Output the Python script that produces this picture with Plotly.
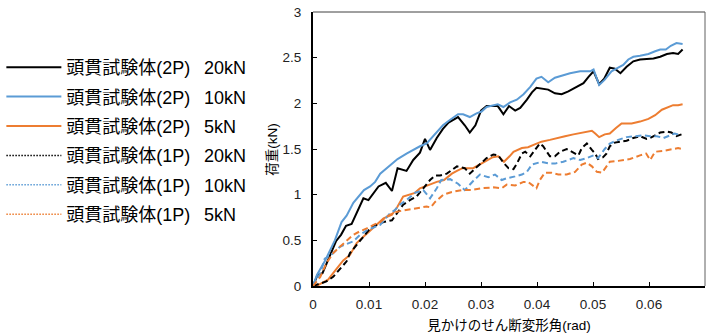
import plotly.graph_objects as go

# ---------------- data ----------------
names = [
    "頭貫試験体(2P)\u00a0\u00a0\u200920kN",
    "頭貫試験体(2P)\u00a0\u00a0\u200910kN",
    "頭貫試験体(2P)\u00a0\u00a0\u20095kN",
    "頭貫試験体(1P)\u00a0\u00a0\u200920kN",
    "頭貫試験体(1P)\u00a0\u00a0\u200910kN",
    "頭貫試験体(1P)\u00a0\u00a0\u20095kN",
]

x_2p_20 = [0, 0.0008, 0.0017, 0.0024, 0.0032, 0.0041, 0.0050, 0.0059, 0.0069, 0.0090,
           0.0099, 0.0117, 0.0130, 0.0141, 0.0151, 0.0167, 0.0179, 0.0191, 0.0200, 0.0209,
           0.0221, 0.0232, 0.0242, 0.0259, 0.0271, 0.0280, 0.0290, 0.0300, 0.0310, 0.0330,
           0.0340, 0.0350, 0.0361, 0.0370, 0.0382, 0.0391, 0.0399, 0.0420, 0.0432, 0.0444,
           0.0456, 0.0471, 0.0483, 0.0492, 0.0501, 0.0511, 0.0520, 0.0530, 0.0539, 0.0549,
           0.0560, 0.0572, 0.0584, 0.0608, 0.0620, 0.0632, 0.0643, 0.0652, 0.0660]
y_2p_20 = [0, 0.12, 0.14, 0.24, 0.36, 0.49, 0.56, 0.66, 0.68, 0.96,
           0.94, 1.09, 1.13, 1.04, 1.29, 1.26, 1.38, 1.46, 1.61, 1.49,
           1.62, 1.72, 1.79, 1.85, 1.76, 1.68, 1.76, 1.92, 1.97, 1.97,
           1.88, 1.97, 1.92, 1.95, 2.04, 2.12, 2.17, 2.15, 2.11, 2.10,
           2.13, 2.18, 2.22, 2.29, 2.35, 2.21, 2.27, 2.39, 2.38, 2.33,
           2.40, 2.46, 2.48, 2.49, 2.51, 2.54, 2.55, 2.54, 2.59]

x_2p_10 = [0, 0.0007, 0.0021, 0.0030, 0.0039, 0.0051, 0.0060, 0.0072, 0.0081, 0.0091,
           0.0102, 0.0111, 0.0120, 0.0132, 0.0141, 0.0151, 0.0167, 0.0179, 0.0191, 0.0203,
           0.0215, 0.0232, 0.0245, 0.0259, 0.0268, 0.0280, 0.0292, 0.0301, 0.0310, 0.0330,
           0.0340, 0.0352, 0.0364, 0.0376, 0.0388, 0.0399, 0.0408, 0.0420, 0.0432, 0.0444,
           0.0459, 0.0477, 0.0495, 0.0501, 0.0511, 0.0521, 0.0533, 0.0545, 0.0554, 0.0563,
           0.0572, 0.0584, 0.0599, 0.0611, 0.0620, 0.0630, 0.0639, 0.0649, 0.0660]
y_2p_10 = [0, 0.12, 0.27, 0.39, 0.50, 0.70, 0.77, 0.91, 0.98, 1.05,
           1.09, 1.14, 1.23, 1.29, 1.34, 1.39, 1.45, 1.49, 1.53, 1.56,
           1.64, 1.76, 1.82, 1.88, 1.88, 1.85, 1.89, 1.91, 1.96, 1.99,
           1.96, 2.01, 2.04, 2.10, 2.18, 2.27, 2.29, 2.23, 2.28, 2.30,
           2.33, 2.35, 2.35, 2.37, 2.20, 2.26, 2.35, 2.39, 2.42, 2.48,
           2.51, 2.52, 2.54, 2.57, 2.59, 2.59, 2.63, 2.66, 2.65]

x_2p_5 = [0, 0.0009, 0.0018, 0.0027, 0.0036, 0.0045, 0.0054, 0.0066, 0.0078, 0.0090,
          0.0099, 0.0114, 0.0126, 0.0141, 0.0151, 0.0161, 0.0173, 0.0182, 0.0191, 0.0200,
          0.0212, 0.0221, 0.0234, 0.0248, 0.0257, 0.0267, 0.0286, 0.0298, 0.0310, 0.0321,
          0.0331, 0.0341, 0.0351, 0.0358, 0.0373, 0.0384, 0.0396, 0.0408, 0.0423, 0.0435,
          0.0450, 0.0465, 0.0480, 0.0498, 0.0504, 0.0511, 0.0521, 0.0530, 0.0541, 0.0551,
          0.0569, 0.0584, 0.0599, 0.0611, 0.0623, 0.0634, 0.0643, 0.0652, 0.0660]
y_2p_5 = [0, 0.01, 0.04, 0.07, 0.14, 0.21, 0.28, 0.34, 0.47, 0.54,
          0.59, 0.67, 0.74, 0.78, 0.87, 0.98, 1.00, 1.02, 1.07, 1.09,
          1.12, 1.14, 1.16, 1.23, 1.26, 1.29, 1.29, 1.33, 1.37, 1.41,
          1.42, 1.36, 1.42, 1.47, 1.51, 1.52, 1.55, 1.58, 1.60, 1.62,
          1.64, 1.66, 1.68, 1.70, 1.67, 1.63, 1.66, 1.67, 1.73, 1.78,
          1.78, 1.80, 1.83, 1.87, 1.93, 1.96, 1.98, 1.98, 1.99]

x_1p_20 = [0, 0.0013, 0.0024, 0.0036, 0.0048, 0.0060, 0.0066, 0.0075, 0.0084, 0.0093,
           0.0102, 0.0114, 0.0126, 0.0141, 0.0151, 0.0161, 0.0173, 0.0185, 0.0197, 0.0209,
           0.0218, 0.0227, 0.0239, 0.0257, 0.0271, 0.0280, 0.0292, 0.0301, 0.0310, 0.0322,
           0.0331, 0.0340, 0.0349, 0.0358, 0.0364, 0.0373, 0.0379, 0.0388, 0.0405, 0.0411,
           0.0423, 0.0432, 0.0441, 0.0453, 0.0465, 0.0474, 0.0480, 0.0489, 0.0498, 0.0504,
           0.0509, 0.0518, 0.0524, 0.0530, 0.0539, 0.0551, 0.0560, 0.0572, 0.0584, 0.0596,
           0.0602, 0.0611, 0.0620, 0.0632, 0.0640, 0.0649, 0.0658]
y_1p_20 = [0, 0.03, 0.05, 0.10, 0.18, 0.27, 0.36, 0.43, 0.50, 0.56,
           0.63, 0.67, 0.70, 0.72, 0.81, 0.89, 0.94, 0.98, 1.07, 1.16,
           1.21, 1.21, 1.23, 1.31, 1.29, 1.23, 1.30, 1.35, 1.40, 1.44,
           1.43, 1.35, 1.29, 1.28, 1.34, 1.45, 1.47, 1.42, 1.56, 1.53,
           1.42, 1.42, 1.47, 1.50, 1.46, 1.43, 1.51, 1.56, 1.49, 1.45,
           1.39, 1.41, 1.45, 1.53, 1.57, 1.58, 1.59, 1.62, 1.64, 1.61,
           1.62, 1.65, 1.68, 1.69, 1.68, 1.64, 1.66]

x_1p_10 = [0, 0.0013, 0.0021, 0.0027, 0.0036, 0.0048, 0.0060, 0.0072, 0.0084, 0.0096,
           0.0108, 0.0120, 0.0138, 0.0146, 0.0155, 0.0167, 0.0182, 0.0197, 0.0209, 0.0221,
           0.0229, 0.0245, 0.0259, 0.0271, 0.0286, 0.0298, 0.0313, 0.0325, 0.0337, 0.0346,
           0.0361, 0.0373, 0.0382, 0.0391, 0.0408, 0.0423, 0.0432, 0.0447, 0.0465, 0.0477,
           0.0489, 0.0501, 0.0509, 0.0521, 0.0530, 0.0545, 0.0560, 0.0575, 0.0590, 0.0602,
           0.0614, 0.0626, 0.0634, 0.0646, 0.0658]
y_1p_10 = [0, 0.14, 0.30, 0.32, 0.36, 0.43, 0.46, 0.49, 0.56, 0.61,
           0.64, 0.67, 0.80, 0.83, 0.89, 0.94, 1.02, 1.05, 0.96, 1.07,
           1.16, 1.17, 1.12, 1.05, 1.15, 1.22, 1.19, 1.22, 1.16, 1.18,
           1.20, 1.22, 1.25, 1.33, 1.36, 1.34, 1.34, 1.36, 1.40, 1.38,
           1.40, 1.43, 1.40, 1.50, 1.56, 1.60, 1.63, 1.64, 1.65, 1.64,
           1.64, 1.62, 1.64, 1.67, 1.65]

x_1p_5 = [0, 0.0013, 0.0024, 0.0036, 0.0048, 0.0060, 0.0072, 0.0084, 0.0096, 0.0108,
          0.0120, 0.0132, 0.0143, 0.0155, 0.0173, 0.0191, 0.0203, 0.0210, 0.0218, 0.0233,
          0.0248, 0.0266, 0.0283, 0.0301, 0.0322, 0.0337, 0.0346, 0.0361, 0.0376, 0.0384,
          0.0393, 0.0399, 0.0405, 0.0414, 0.0426, 0.0438, 0.0453, 0.0468, 0.0480, 0.0489,
          0.0498, 0.0507, 0.0516, 0.0524, 0.0530, 0.0545, 0.0566, 0.0584, 0.0595, 0.0602,
          0.0611, 0.0626, 0.0637, 0.0652, 0.0660]
y_1p_5 = [0, 0.10, 0.25, 0.36, 0.43, 0.50, 0.56, 0.60, 0.63, 0.67,
          0.70, 0.76, 0.80, 0.82, 0.84, 0.86, 0.87, 0.86, 0.92, 1.00,
          1.03, 1.05, 1.05, 1.07, 1.08, 1.07, 1.11, 1.10, 1.14, 1.14,
          1.10, 1.07, 1.16, 1.24, 1.24, 1.22, 1.22, 1.25, 1.33, 1.35,
          1.31, 1.25, 1.24, 1.31, 1.36, 1.37, 1.39, 1.43, 1.45, 1.38,
          1.47, 1.48, 1.49, 1.51, 1.50]

x_tick_vals = [0, 0.01, 0.02, 0.03, 0.04, 0.05, 0.06, 0.07]
x_tick_text = ["0", "0.01", "0.02", "0.03", "0.04", "0.05", "0.06", "0.07"]
y_tick_vals = [0, 0.5, 1, 1.5, 2, 2.5, 3]
y_tick_text = ["0", "0.5", "1", "1.5", "2", "2.5", "3"]

x_title = "見かけのせん断変形角(rad)"
y_title = "荷重(kN)"

# ---------------- styles ----------------
BLACK = "#000000"
BLUE = "#5B9BD5"
ORANGE = "#ED7D31"
FONT = "Liberation Sans, Arial, Noto Sans CJK JP, sans-serif"

series = [
    (x_2p_20, y_2p_20, BLACK, "solid"),
    (x_2p_10, y_2p_10, BLUE, "solid"),
    (x_2p_5, y_2p_5, ORANGE, "solid"),
    (x_1p_20, y_1p_20, BLACK, "dashed"),
    (x_1p_10, y_1p_10, BLUE, "dashed"),
    (x_1p_5, y_1p_5, ORANGE, "dashed"),
]

fig = go.Figure()

# legend entries (dotted style for 1P as in the original legend)
for i, (name, (xs, ys, col, kind)) in enumerate(zip(names, series)):
    if kind == "solid":
        ln = dict(color=col, width=2)
    else:
        ln = dict(color=col, width=1.5, dash="1.5px,1.5px")
    fig.add_trace(go.Scatter(x=[None], y=[None], mode="lines", name=name,
                             line=ln, legendgroup=f"g{i}", showlegend=True,
                             hoverinfo="skip"))

for i, (name, (xs, ys, col, kind)) in enumerate(zip(names, series)):
    if kind == "solid":
        ln = dict(color=col, width=2)
    else:
        ln = dict(color=col, width=2, dash="6px,3.5px")
    fig.add_trace(go.Scatter(x=xs, y=ys, mode="lines", name=name, line=ln,
                             legendgroup=f"g{i}", showlegend=False))

fig.update_layout(
    width=717, height=333,
    margin=dict(l=313, r=12, t=12, b=47, autoexpand=False),
    paper_bgcolor="white", plot_bgcolor="white",
    font=dict(family=FONT, size=13, color="#000000"),
    showlegend=True,
    legend=dict(x=-0.795, y=0.865, xanchor="left", yanchor="top",
                font=dict(family=FONT, size=18, color="#000000"),
                tracegroupgap=3, itemwidth=55, bgcolor="rgba(0,0,0,0)",
                borderwidth=0),
    xaxis=dict(range=[0, 0.07], tickvals=x_tick_vals, ticktext=x_tick_text,
               ticks="inside", ticklen=4, tickcolor="#000", tickwidth=1,
               showline=True, linecolor="#000", linewidth=2,
               showgrid=False, zeroline=False, ticklabelstandoff=5,
               tickfont=dict(size=13.5, color="#222"),
               title=dict(text=x_title, font=dict(size=13.5), standoff=9)),
    yaxis=dict(range=[0, 3], tickvals=y_tick_vals, ticktext=y_tick_text,
               ticks="inside", ticklen=4, tickcolor="#000", tickwidth=1,
               showline=True, linecolor="#000", linewidth=2,
               showgrid=False, zeroline=False, ticklabelstandoff=7,
               tickfont=dict(size=13.5, color="#222")),
    annotations=[
        dict(text=y_title, xref="paper", yref="paper", x=-0.105, y=0.5,
             xanchor="center", yanchor="middle", textangle=-90, showarrow=False,
             font=dict(size=13.5)),
    ],
    shapes=[
        dict(type="line", xref="paper", yref="paper", x0=0, x1=1, y0=1, y1=1,
             line=dict(color="#404040", width=1)),
        dict(type="line", xref="paper", yref="paper", x0=1, x1=1, y0=0, y1=1,
             line=dict(color="#606060", width=1)),
    ],
)

fig.write_html("out.html")
